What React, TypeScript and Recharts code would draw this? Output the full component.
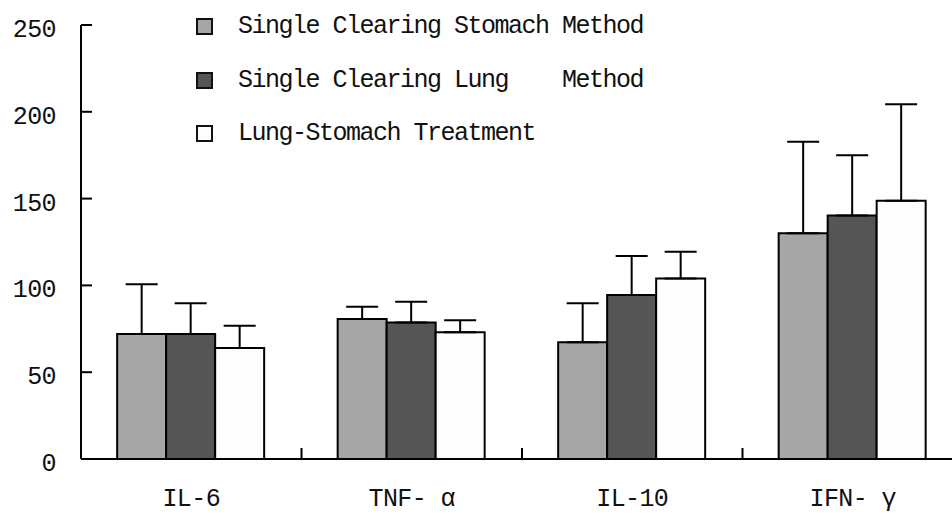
import React from "react";
import { BarChart, Bar, XAxis, YAxis, ErrorBar, Legend } from "recharts";

const categories = ["IL-6", "TNF- α", "IL-10", "IFN- γ"];
const stomachMean = [72, 80.6, 67.2, 130];
const stomachSd = [28.6, 7.1, 22.5, 52.8];
const lungMean = [72, 78.7, 94.5, 140.2];
const lungSd = [17.7, 11.9, 22.5, 34.8];
const comboMean = [64, 73, 104, 148.8];
const comboSd = [12.8, 6.9, 15.4, 55.5];
const yTicks = [0, 50, 100, 150, 200, 250];

const seriesNames = [
  "Single Clearing Stomach Method",
  "Single Clearing Lung    Method",
  "Lung-Stomach Treatment",
];
const seriesFills = ["#a6a6a6", "#555555", "#fdfdfd"];

const data = categories.map((name, i) => ({
  name,
  stomach: stomachMean[i],
  stomachErr: [0, stomachSd[i]],
  lung: lungMean[i],
  lungErr: [0, lungSd[i]],
  combo: comboMean[i],
  comboErr: [0, comboSd[i]],
}));

const W = 963;
const H = 514;
const Y_AXIS_W = 81;
const X_AXIS_H = 55;
const TOP = 25;
const BAND = (W - Y_AXIS_W) / categories.length;
const FONT = "'Liberation Mono', monospace";

function YTick({ x, y, payload }: any) {
  return (
    <g>
      <line x1={x} x2={x + 11} y1={y} y2={y} stroke="#000" strokeWidth={2} />
      <text
        x={x - 25}
        y={y + 12}
        textAnchor="end"
        fill="#111"
        fontFamily={FONT}
        fontSize={25}
        letterSpacing={-0.6}
      >
        {payload.value}
      </text>
    </g>
  );
}

function XTick({ x, y, payload, index }: any) {
  return (
    <g>
      {index > 0 && (
        <line
          x1={x - BAND / 2}
          x2={x - BAND / 2}
          y1={y}
          y2={y - 11}
          stroke="#000"
          strokeWidth={2}
        />
      )}
      <text
        x={x}
        y={y + 47}
        textAnchor="middle"
        fill="#111"
        fontFamily={FONT}
        fontSize={25}
        letterSpacing={-0.6}
        style={{ whiteSpace: "pre" }}
      >
        {payload.value}
      </text>
    </g>
  );
}

function LegendBox({ payload }: any) {
  // keep the series order of the reference (top to bottom)
  const items = [...(payload || [])].sort(
    (a: any, b: any) => seriesNames.indexOf(a.value) - seriesNames.indexOf(b.value),
  );
  return (
    <div>
      {items.map((entry: any) => (
        <div
          key={entry.value}
          style={{ display: "flex", alignItems: "center", height: 53.5 }}
        >
          <div
            style={{
              width: 13,
              height: 13,
              border: "2px solid #111",
              background: entry.color,
              marginRight: 25,
            }}
          />
          <span
            style={{
              fontFamily: FONT,
              fontSize: 25,
              letterSpacing: -1.5,
              color: "#111",
              whiteSpace: "pre",
            }}
          >
            {entry.value}
          </span>
        </div>
      ))}
    </div>
  );
}

export default function App() {
  return (
    <div
      style={{
        position: "fixed",
        left: 0,
        top: 0,
        width: 952,
        height: 514,
        overflow: "hidden",
        background: "#fff",
      }}
    >
      <BarChart
        width={W}
        height={H}
        data={data}
        margin={{ top: TOP, right: 0, bottom: 0, left: 0 }}
        barCategoryGap="16.4%"
        barGap={0}
      >
        <XAxis
          dataKey="name"
          height={X_AXIS_H}
          axisLine={{ stroke: "#000", strokeWidth: 2 }}
          tickLine={false}
          tickSize={0}
          tickMargin={0}
          tick={<XTick />}
          interval={0}
        />
        <YAxis
          width={Y_AXIS_W}
          domain={[0, 250]}
          ticks={yTicks}
          interval={0}
          axisLine={{ stroke: "#000", strokeWidth: 2 }}
          tickLine={false}
          tickSize={0}
          tickMargin={0}
          tick={<YTick />}
        />
        <Legend
          layout="vertical"
          align="center"
          verticalAlign="middle"
          wrapperStyle={{ position: "absolute", left: 196, top: 0, width: "auto" }}
          content={<LegendBox />}
        />
        <Bar
          dataKey="stomach"
          name={seriesNames[0]}
          fill={seriesFills[0]}
          stroke="#000"
          strokeWidth={2}
          isAnimationActive={false}
        >
          <ErrorBar dataKey="stomachErr" width={16} stroke="#000" strokeWidth={2} direction="y" />
        </Bar>
        <Bar
          dataKey="lung"
          name={seriesNames[1]}
          fill={seriesFills[1]}
          stroke="#000"
          strokeWidth={2}
          isAnimationActive={false}
        >
          <ErrorBar dataKey="lungErr" width={16} stroke="#000" strokeWidth={2} direction="y" />
        </Bar>
        <Bar
          dataKey="combo"
          name={seriesNames[2]}
          fill={seriesFills[2]}
          stroke="#000"
          strokeWidth={2}
          isAnimationActive={false}
        >
          <ErrorBar dataKey="comboErr" width={16} stroke="#000" strokeWidth={2} direction="y" />
        </Bar>
      </BarChart>
    </div>
  );
}
